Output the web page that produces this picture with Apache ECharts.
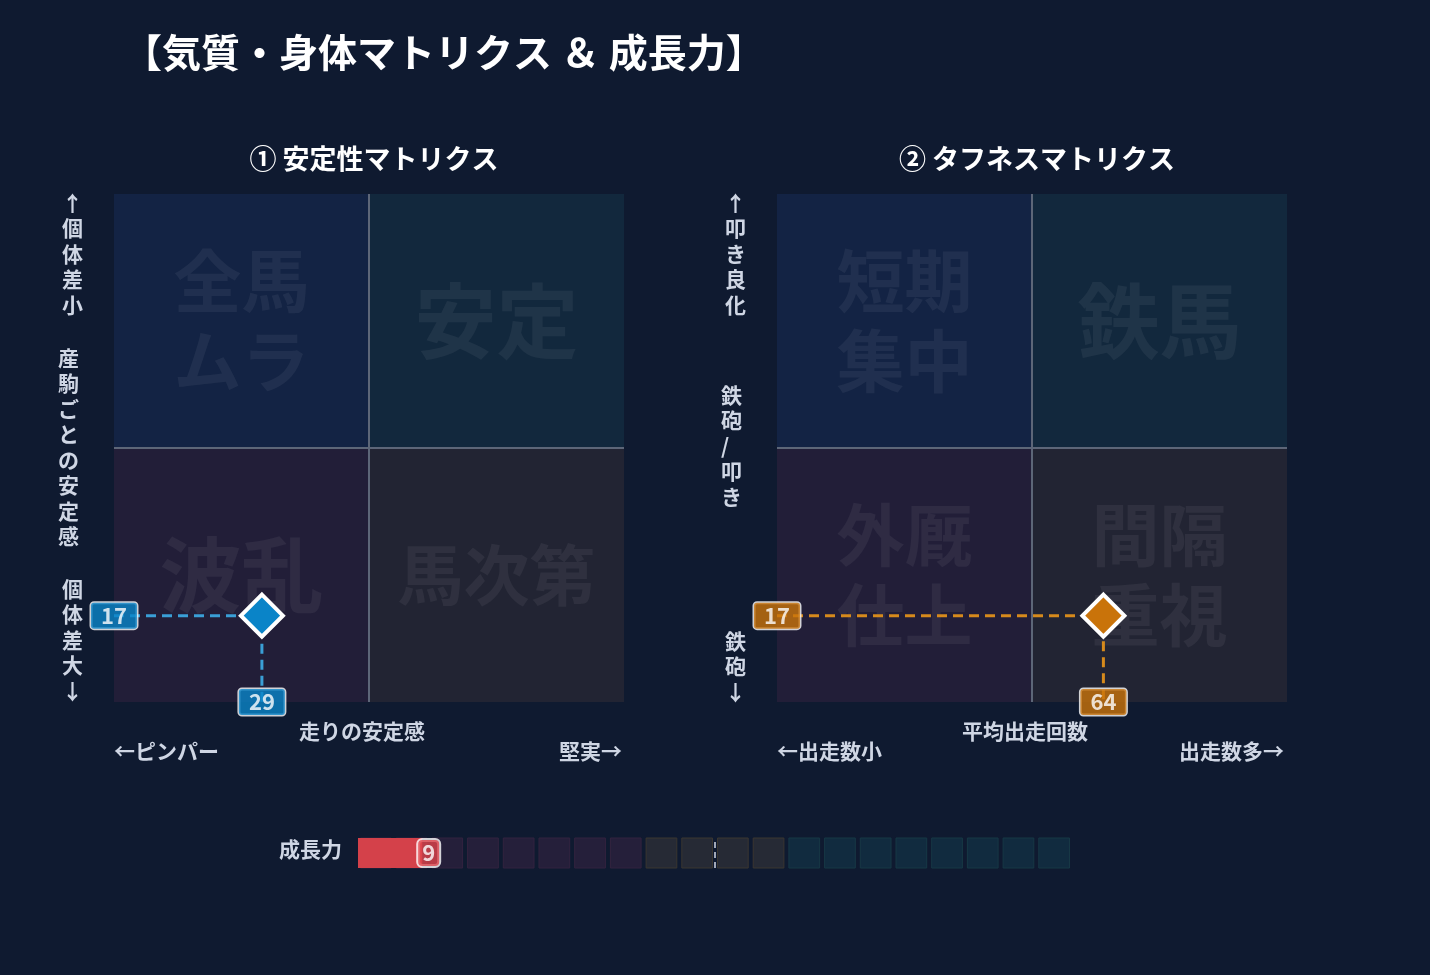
<!DOCTYPE html>
<html>
<head>
<meta charset="utf-8">
<title>気質・身体マトリクス & 成長力</title>
<style>
html,body{margin:0;padding:0;background:#0f1a30;}
#main{width:1430px;height:975px;}
</style>
</head>
<body>
<div id="main"></div>
<script src="https://cdn.jsdelivr.net/npm/echarts@6/dist/echarts.min.js"></script>
<script>
// データ
var stabilityPoint = [29, 17];   // 走りの安定感, 産駒ごとの安定感
var toughPoint = [64, 17];       // 平均出走回数, 鉄砲/叩き
var growth = 9;
var growthMarker = 50;
var quadLabels1 = ['全馬\nムラ', '安定', '波乱', '馬次第'];
var quadLabels2 = ['短期\n集中', '鉄馬', '外厩\n仕上', '間隔\n重視'];
var growthCells = [];
for (var i = 0; i < 20; i++) growthCells.push([i * 5, i * 5 + 5]);

var FONT = '"Noto Sans CJK JP", sans-serif';
var quadColors = ['#132344', '#12283d', '#221e38', '#222433'];

function quads(labels) {
  var boxes = [[0, 50, 50, 100], [50, 50, 100, 100], [0, 0, 50, 50], [50, 0, 100, 50]];
  return boxes.map(function (b, k) {
    var twoLine = labels[k].indexOf('\n') >= 0;
    return [{
      coord: [b[0], b[1]],
      itemStyle: { color: quadColors[k] },
      label: {
        show: true, position: 'inside', formatter: labels[k],
        color: 'rgba(255,255,255,0.06)', fontSize: twoLine ? 68 : (labels[k].length > 2 ? 66 : 82), fontWeight: 'bold',
        lineHeight: 80, fontFamily: FONT
      }
    }, { coord: [b[2], b[3]] }];
  });
}

function tag(color) {
  return {
    show: true, position: 'inside', color: '#fff', fontSize: 22, fontWeight: 'bold',
    backgroundColor: color, borderColor: '#fff', borderWidth: 1.5, borderRadius: 3,
    padding: [3, 10, 1, 10], fontFamily: FONT
  };
}

function matrixSeries(idx, pt, labels, color, lineColor) {
  return [{
    type: 'scatter', xAxisIndex: idx, yAxisIndex: idx, data: [], silent: true,
    markArea: { silent: true, data: quads(labels) },
    markLine: {
      silent: true, symbol: 'none',
      lineStyle: { color: '#5d6678', width: 2, type: 'solid' }, label: { show: false },
      data: [{ xAxis: 50 }, { yAxis: 50 }]
    }
  }, {
    type: 'line', xAxisIndex: idx, yAxisIndex: idx, symbol: 'none', silent: true,
    lineStyle: { color: lineColor, width: 3, type: [10, 6] },
    data: [[0, pt[1]], [pt[0], pt[1]], [pt[0], 0]], z: 3
  }, {
    type: 'scatter', xAxisIndex: idx, yAxisIndex: idx, symbol: 'diamond', symbolSize: 42, silent: true,
    itemStyle: { color: color, borderColor: '#fff', borderWidth: 4, opacity: 1 },
    data: [pt], z: 5
  }, {
    type: 'scatter', xAxisIndex: idx, yAxisIndex: idx, symbolSize: 1, z: 6, silent: true,
    itemStyle: { color: 'transparent' },
    label: Object.assign(tag(color), { formatter: function (p) { return p.data[2]; } }),
    data: [[0, pt[1], pt[1]], [pt[0], 0, pt[0]]]
  }];
}

function axisText(x, y, text) {
  return { type: 'text', left: x, top: y, style: { text: text, fill: '#cfd6e4', fontSize: 21, fontWeight: 'bold', fontFamily: FONT } };
}
function vText(x, y, text) {
  return { type: 'text', left: x, top: y, style: { text: text.split('').join('\n'), fill: '#cfd6e4', fontSize: 21, fontWeight: 'bold', lineHeight: 25.5, fontFamily: FONT } };
}

var hiddenAxis = { min: 0, max: 100, show: false };
var series = []
  .concat(matrixSeries(0, stabilityPoint, quadLabels1, '#0a84c8', '#3a9fd6'))
  .concat(matrixSeries(1, toughPoint, quadLabels2, '#c9730a', '#d68a1c'));

// 成長力バー
var cellAreas = growthCells.map(function (c) {
  var col = c[0] < 40 ? ['#251f3a', '#33233f'] : c[0] < 60 ? ['#262a35', '#3a3630'] : ['#112b3f', '#173845'];
  return [{ xAxis: c[0] + 0.35, yAxis: 0, itemStyle: { color: col[0], borderColor: col[1], borderWidth: 1 } }, { xAxis: c[1] - 0.35, yAxis: 1 }];
});
cellAreas.push([{ xAxis: 0, yAxis: 0, itemStyle: { color: '#d4414a' } }, { xAxis: growth, yAxis: 1 }]);
series.push({
  type: 'scatter', xAxisIndex: 2, yAxisIndex: 2, data: [], silent: true,
  markArea: { silent: true, data: cellAreas },
  markLine: {
    silent: true, symbol: 'none', label: { show: false },
    lineStyle: { color: '#a0a8b8', width: 2, type: [6, 4] },
    data: [{ xAxis: growthMarker }]
  }
});
series.push({
  type: 'scatter', xAxisIndex: 2, yAxisIndex: 2, symbolSize: 1, z: 6, silent: true,
  itemStyle: { color: 'transparent' },
  label: {
    show: true, position: 'inside', formatter: String(growth), color: '#fff', fontSize: 22, fontWeight: 'bold',
    backgroundColor: '#e0434b', borderColor: '#fff', borderWidth: 2, borderRadius: 4, padding: [3, 4, 1, 4], fontFamily: FONT
  },
  data: [[growth + 0.9, 0.5]]
});

var option = {
  animation: false,
  backgroundColor: '#0f1a30',
  textStyle: { fontFamily: FONT },
  title: [
    { text: '【気質・身体マトリクス ＆ 成長力】', left: 118, top: 28, textStyle: { color: '#fff', fontSize: 39, fontWeight: 'bold', fontFamily: FONT } },
    { text: '① 安定性マトリクス', left: 369, top: 140, textAlign: 'center', textStyle: { color: '#fff', fontSize: 27, fontWeight: 'bold', fontFamily: FONT } },
    { text: '② タフネスマトリクス', left: 1032, top: 140, textAlign: 'center', textStyle: { color: '#fff', fontSize: 27, fontWeight: 'bold', fontFamily: FONT } }
  ],
  grid: [
    { left: 114, top: 194, width: 510, height: 508 },
    { left: 777, top: 194, width: 510, height: 508 },
    { left: 358, top: 838, width: 714, height: 30 }
  ],
  xAxis: [Object.assign({ gridIndex: 0 }, hiddenAxis), Object.assign({ gridIndex: 1 }, hiddenAxis), Object.assign({ gridIndex: 2 }, hiddenAxis)],
  yAxis: [Object.assign({ gridIndex: 0 }, hiddenAxis), Object.assign({ gridIndex: 1 }, hiddenAxis), { gridIndex: 2, min: 0, max: 1, show: false }],
  graphic: [
    axisText(299, 721, '走りの安定感'),
    axisText(114, 741, '←ピンパー'),
    axisText(559, 741, '堅実→'),
    axisText(962, 721, '平均出走回数'),
    axisText(777, 741, '←出走数小'),
    axisText(1179, 741, '出走数多→'),
    axisText(279, 839, '成長力'),
    vText(62, 190, '↑個体差小'),
    vText(58, 345, '産駒ごとの安定感'),
    vText(62, 576, '個体差大↓'),
    vText(725, 190, '↑叩き良化'),
    vText(721, 382, '鉄砲/叩き'),
    vText(725, 628, '鉄砲↓')
  ],
  series: series
};

var myChart = echarts.init(document.getElementById('main'));
myChart.setOption(option);
</script>
</body>
</html>
